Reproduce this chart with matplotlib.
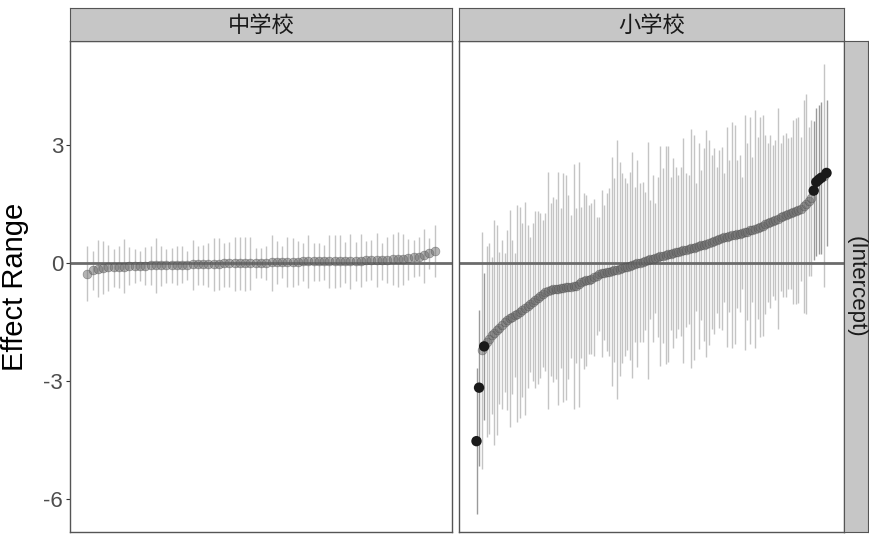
import numpy as np
import matplotlib
matplotlib.use("Agg")
import matplotlib.pyplot as plt

plt.rcParams['font.family'] = ['Liberation Sans', 'Noto Sans CJK JP', 'DejaVu Sans']

# --- data --------------------------------------------------------------------
facets = ['中学校', '小学校']
row_label = '(Intercept)'

# 中学校 : sorted group effects with their interval ends
jhs_mean = [-0.28, -0.19, -0.15, -0.12, -0.11, -0.10, -0.09, -0.09, -0.08, -0.08,
            -0.07, -0.07, -0.06, -0.06, -0.05, -0.05, -0.05, -0.04, -0.04, -0.04,
            -0.03, -0.03, -0.03, -0.02, -0.02, -0.02, -0.01, -0.01, -0.01, 0.00,
            0.00, 0.00, 0.01, 0.01, 0.01, 0.02, 0.02, 0.02, 0.03, 0.03,
            0.03, 0.04, 0.04, 0.04, 0.04, 0.04, 0.05, 0.05, 0.05, 0.06,
            0.06, 0.06, 0.06, 0.07, 0.07, 0.07, 0.08, 0.08, 0.09, 0.10,
            0.11, 0.12, 0.14, 0.16, 0.20, 0.25, 0.30]
jhs_upper = [0.42, 0.31, 0.58, 0.57, 0.47, 0.36, 0.44, 0.60, 0.40, 0.35,
             0.31, 0.40, 0.42, 0.63, 0.43, 0.36, 0.38, 0.42, 0.42, 0.31,
             0.58, 0.43, 0.45, 0.50, 0.63, 0.63, 0.50, 0.53, 0.67, 0.65,
             0.67, 0.65, 0.37, 0.37, 0.42, 0.71, 0.57, 0.42, 0.67, 0.63,
             0.57, 0.52, 0.71, 0.50, 0.50, 0.46, 0.71, 0.71, 0.71, 0.54,
             0.75, 0.54, 0.74, 0.57, 0.58, 0.77, 0.52, 0.67, 0.75, 0.80,
             0.74, 0.60, 0.58, 0.65, 0.86, 0.63, 0.97]
jhs_lower = [-0.96, -0.69, -0.86, -0.79, -0.70, -0.60, -0.64, -0.77, -0.56, -0.52,
             -0.47, -0.56, -0.56, -0.77, -0.58, -0.50, -0.52, -0.56, -0.52, -0.43,
             -0.69, -0.56, -0.56, -0.60, -0.70, -0.69, -0.60, -0.62, -0.70, -0.69,
             -0.70, -0.69, -0.39, -0.39, -0.43, -0.70, -0.53, -0.39, -0.60, -0.60,
             -0.56, -0.47, -0.64, -0.47, -0.47, -0.43, -0.64, -0.64, -0.60, -0.52,
             -0.67, -0.47, -0.60, -0.47, -0.43, -0.60, -0.43, -0.52, -0.56, -0.60,
             -0.56, -0.43, -0.35, -0.33, -0.52, -0.14, -0.36]

# 小学校
es_mean = [-4.53, -3.17, -2.22, -2.12, -2.00, -1.92, -1.84, -1.77, -1.70, -1.65,
           -1.57, -1.51, -1.45, -1.41, -1.37, -1.33, -1.29, -1.25, -1.20, -1.15,
           -1.10, -1.05, -1.00, -0.94, -0.88, -0.83, -0.78, -0.74, -0.70, -0.68,
           -0.67, -0.66, -0.65, -0.64, -0.63, -0.62, -0.61, -0.60, -0.59, -0.58,
           -0.54, -0.49, -0.46, -0.44, -0.42, -0.40, -0.36, -0.32, -0.28, -0.26,
           -0.25, -0.24, -0.23, -0.21, -0.19, -0.17, -0.15, -0.13, -0.11, -0.09,
           -0.07, -0.05, -0.03, -0.01, 0.01, 0.03, 0.05, 0.07, 0.09, 0.11,
           0.13, 0.15, 0.17, 0.19, 0.20, 0.22, 0.24, 0.25, 0.27, 0.28,
           0.30, 0.32, 0.33, 0.35, 0.37, 0.39, 0.41, 0.43, 0.45, 0.47,
           0.49, 0.52, 0.54, 0.56, 0.59, 0.61, 0.63, 0.65, 0.67, 0.69,
           0.71, 0.72, 0.74, 0.75, 0.76, 0.78, 0.80, 0.83, 0.85, 0.87,
           0.89, 0.92, 0.95, 0.98, 1.02, 1.05, 1.08, 1.10, 1.13, 1.16,
           1.19, 1.22, 1.25, 1.27, 1.30, 1.32, 1.35, 1.38, 1.44, 1.51,
           1.57, 1.65, 1.84, 2.06, 2.12, 2.17, 2.22, 2.29]
es_upper = [-2.68, -1.19, 0.80, -0.26, 0.42, 0.50, 0.16, 1.09, 0.97, 0.29,
            0.58, 0.25, 0.84, 1.35, 0.58, 0.25, 1.47, 1.43, 1.01, 1.56,
            0.97, 0.67, 1.01, 1.31, 1.31, 1.26, 1.09, 1.26, 2.32, 1.52,
            1.69, 1.64, 2.32, 1.39, 2.28, 2.24, 1.73, 1.22, 2.53, 1.39,
            2.58, 1.43, 1.77, 1.73, 1.47, 1.52, 1.64, 1.18, 1.18, 1.86,
            1.47, 1.77, 1.90, 2.70, 2.15, 3.13, 2.58, 2.28, 2.15, 2.03,
            2.32, 2.83, 1.94, 2.62, 2.03, 2.07, 1.81, 3.08, 1.60, 2.24,
            1.52, 2.19, 2.97, 2.41, 2.97, 2.97, 2.19, 2.66, 2.45, 2.24,
            2.45, 3.19, 2.28, 2.24, 3.42, 3.25, 2.03, 3.04, 2.36, 2.92,
            3.38, 3.13, 2.75, 2.92, 2.45, 2.87, 2.96, 2.28, 3.47, 2.62,
            3.59, 3.51, 2.62, 2.75, 2.19, 3.76, 3.04, 3.72, 2.70, 3.89,
            3.21, 3.72, 3.76, 3.25, 3.04, 3.25, 3.00, 3.13, 3.93, 3.04,
            3.25, 3.30, 3.17, 3.21, 3.64, 3.68, 3.72, 3.21, 4.14, 4.31,
            3.47, 3.64, 3.60, 3.93, 4.02, 4.10, 5.06, 4.14]
es_lower = [-6.38, -5.15, -5.24, -3.98, -4.42, -4.34, -3.84, -4.63, -4.37, -3.59,
            -3.72, -3.27, -3.74, -4.17, -3.32, -2.91, -4.05, -3.93, -3.41, -3.86,
            -3.17, -2.77, -3.01, -3.19, -3.07, -2.92, -2.65, -2.74, -3.72, -2.88,
            -3.03, -2.96, -3.62, -2.67, -3.54, -3.48, -2.95, -2.42, -3.71, -2.55,
            -3.66, -2.41, -2.69, -2.61, -2.31, -2.32, -2.36, -1.82, -1.74, -2.38,
            -1.97, -2.25, -2.36, -3.12, -2.53, -3.47, -2.88, -2.54, -2.37, -2.21,
            -2.46, -2.93, -2.00, -2.64, -2.01, -2.01, -1.71, -2.94, -1.42, -2.02,
            -1.26, -1.89, -2.63, -2.03, -2.57, -2.53, -1.71, -2.16, -1.91, -1.68,
            -1.85, -2.55, -1.62, -1.54, -2.68, -2.47, -1.21, -2.18, -1.46, -1.98,
            -2.40, -2.09, -1.67, -1.80, -1.27, -1.65, -1.70, -0.98, -2.13, -1.24,
            -2.17, -2.07, -1.14, -1.25, -0.67, -2.20, -1.44, -2.06, -1.00, -2.15,
            -1.43, -1.88, -1.86, -1.29, -1.00, -1.15, -0.84, -0.93, -1.67, -0.72,
            -0.87, -0.86, -0.67, -0.67, -1.04, -1.04, -1.02, -0.45, -1.26, -1.29,
            -0.33, -0.34, 0.08, 0.19, 0.22, 0.24, -0.62, 0.44]

y_ticks = [-6, -3, 0, 3]
y_label = 'Effect Range'

# --- layout (pixel boxes of the reference) ----------------------------------
W, H = 869, 536
fig = plt.figure(figsize=(W / 100, H / 100), dpi=100)


def box(x0, y0, x1, y1):
    return [x0 / W, 1 - y1 / H, (x1 - x0) / W, (y1 - y0) / H]


panel_boxes = [box(70, 41, 452, 532), box(459, 41, 844, 532)]
strip_boxes = [box(70, 8, 452, 41), box(459, 8, 844, 41)]
row_strip_box = box(844, 41, 868, 532)

strip_fill = '#c6c6c6'
edge = '#555555'
ylim = (-6.84, 5.645)

data = [(jhs_mean, jhs_lower, jhs_upper), (es_mean, es_lower, es_upper)]

for k, (m, lo, hi) in enumerate(data):
    m = np.array(m)
    lo = np.array(lo)
    hi = np.array(hi)
    x = np.arange(len(m))
    sig = (lo > 0) | (hi < 0)

    ax = fig.add_axes(panel_boxes[k])
    ax.vlines(x[~sig], lo[~sig], hi[~sig], color='#c4c4c4', lw=1.0, zorder=1)
    ax.vlines(x[sig], lo[sig], hi[sig], color='#9a9a9a', lw=1.0, zorder=1)
    ax.axhline(0, color='#6b6b6b', lw=2.0, zorder=2)
    ax.scatter(x[~sig], m[~sig], s=40, color='#6a6a6a', alpha=0.5,
               edgecolors='#4a4a4a', linewidths=0.5, zorder=3)
    ax.scatter(x[sig], m[sig], s=56, color='#1a1a1a', edgecolors='none', zorder=4)

    pad = 0.05 * (len(m) - 1)
    ax.set_xlim(-pad, len(m) - 1 + pad)
    ax.set_ylim(*ylim)
    ax.set_xticks([])
    ax.set_yticks(y_ticks)
    for s in ax.spines.values():
        s.set_color(edge)
        s.set_linewidth(1.0)
    if k == 0:
        ax.set_yticklabels([str(t) for t in y_ticks])
        ax.tick_params(axis='y', length=3, width=0.8, color='#333333',
                       labelsize=16, labelcolor='#4d4d4d', pad=2)
        ax.set_ylabel(y_label, fontsize=21, labelpad=10)
    else:
        ax.tick_params(axis='y', length=0, labelleft=False)

    sax = fig.add_axes(strip_boxes[k])
    sax.set_facecolor(strip_fill)
    sax.set_xticks([])
    sax.set_yticks([])
    for s in sax.spines.values():
        s.set_color(edge)
        s.set_linewidth(0.8)
    sax.text(0.5, 0.45, facets[k], ha='center', va='center', fontsize=16,
             color='#1a1a1a', transform=sax.transAxes)

rax = fig.add_axes(row_strip_box)
rax.set_facecolor(strip_fill)
rax.set_xticks([])
rax.set_yticks([])
for s in rax.spines.values():
    s.set_color(edge)
    s.set_linewidth(0.8)
rax.text(0.5, 0.5, row_label, ha='center', va='center', rotation=-90,
         fontsize=16, color='#1a1a1a', transform=rax.transAxes)

fig.savefig('out.png', dpi=100)
